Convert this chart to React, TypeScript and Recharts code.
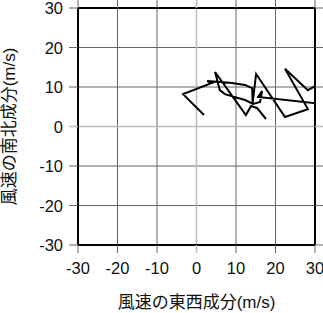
import React from 'react';
import { LineChart, Line, XAxis, YAxis, CartesianGrid, ReferenceLine } from 'recharts';

const uValues = [1.9, -3.4, 3.9, 2.7, 8.5, 12.3, 14.1, 14.2, 15.1, 22.4, 28.2, 22.4, 28.2, 30, 30, 15.6, 16.6, 16.1, 14.3, 12.3, 7.2, 5.9, 4.7, 12.5, 13.8, 15.3, 17.6];
const vValues = [2.9, 8.2, 11.0, 11.5, 11.1, 10.5, 9.7, 5.9, 13.3, 2.4, 4.4, 14.6, 9.2, 10.2, 5.9, 7.5, 9.0, 6.2, 5.7, 6.7, 8.2, 9.2, 13.8, 2.9, 5.2, 4.7, 1.9];
const tickValues = [-30, -20, -10, 0, 10, 20, 30];
const xTitle = '風速の東西成分(m/s)';
const yTitle = '風速の南北成分(m/s)';

const data = uValues.map((u, i) => ({ u, v: vValues[i] }));

const FONT = "'Liberation Sans', 'Noto Sans CJK JP', sans-serif";
const GRID = '#666';
const ZERO = '#bbb';
const col = (v: number) => (v === 0 ? ZERO : GRID);
const sw = (v: number) => (v === 0 ? 1.5 : 1);

const BottomTick = (p: any) => (
  <g>
    <line x1={p.x} y1={p.y} x2={p.x} y2={p.y + 8} stroke={col(p.payload.value)} strokeWidth={sw(p.payload.value)} />
    <text x={p.x} y={p.y + 29} textAnchor="middle" fontSize={16.5} fontFamily={FONT} fill="#111">{p.payload.value}</text>
  </g>
);
const TopTick = (p: any) => (
  <line x1={p.x} y1={p.y} x2={p.x} y2={p.y - 8} stroke={col(p.payload.value)} strokeWidth={sw(p.payload.value)} />
);
const LeftTick = (p: any) => (
  <g>
    <line x1={p.x} y1={p.y} x2={p.x - 9} y2={p.y} stroke={col(p.payload.value)} strokeWidth={sw(p.payload.value)} />
    <text x={p.x - 15} y={p.y + 6} textAnchor="end" fontSize={16.5} fontFamily={FONT} fill="#111">{p.payload.value}</text>
  </g>
);
const RightTick = (p: any) => (
  <line x1={p.x} y1={p.y} x2={p.x + 8} y2={p.y} stroke={col(p.payload.value)} strokeWidth={sw(p.payload.value)} />
);

export default function App() {
  return (
    <div style={{ position: 'absolute', left: 0, top: 0 }}>
      <LineChart width={323} height={313} data={data} margin={{ top: 0, right: 0, bottom: 0, left: 0 }}>
        <CartesianGrid stroke={GRID} strokeWidth={1} xAxisId="b" yAxisId="l" />
        <ReferenceLine x={0} xAxisId="b" yAxisId="l" stroke={ZERO} strokeWidth={1.5} />
        <ReferenceLine y={0} xAxisId="b" yAxisId="l" stroke={ZERO} strokeWidth={1.5} />
        <XAxis
          xAxisId="b"
          dataKey="u"
          type="number"
          domain={[-30, 30]}
          ticks={tickValues}
          orientation="bottom"
          height={68}
          tickSize={0}
          tickMargin={0}
          tickLine={false}
          axisLine={{ stroke: '#000', strokeWidth: 2 }}
          tick={<BottomTick />}
          interval={0}
          label={{
            content: (props: any) => {
              const vb = props.viewBox;
              return (
                <text x={vb.x + vb.width / 2} y={vb.y + 62.5} textAnchor="middle" fontSize={17} fontFamily={FONT} fill="#111">
                  {xTitle}
                </text>
              );
            },
          }}
        />
        <XAxis
          xAxisId="t"
          dataKey="u"
          type="number"
          domain={[-30, 30]}
          ticks={tickValues}
          orientation="top"
          height={8}
          tickSize={0}
          tickMargin={0}
          tickLine={false}
          axisLine={{ stroke: '#000', strokeWidth: 2 }}
          tick={<TopTick />}
          interval={0}
        />
        <YAxis
          yAxisId="l"
          dataKey="v"
          type="number"
          domain={[-30, 30]}
          ticks={tickValues}
          orientation="left"
          width={78}
          tickSize={0}
          tickMargin={0}
          tickLine={false}
          axisLine={{ stroke: '#000', strokeWidth: 2 }}
          tick={<LeftTick />}
          interval={0}
          label={{
            content: (props: any) => {
              const vb = props.viewBox;
              const cx = 9;
              const cy = vb.y + vb.height / 2;
              return (
                <text x={cx} y={cy} transform={`rotate(-90 ${cx} ${cy})`} textAnchor="middle" dominantBaseline="central" fontSize={17} fontFamily={FONT} fill="#111">
                  {yTitle}
                </text>
              );
            },
          }}
        />
        <YAxis
          yAxisId="r"
          dataKey="v"
          type="number"
          domain={[-30, 30]}
          ticks={tickValues}
          orientation="right"
          width={8}
          tickSize={0}
          tickMargin={0}
          tickLine={false}
          axisLine={{ stroke: '#000', strokeWidth: 2 }}
          tick={<RightTick />}
          interval={0}
        />
        <Line
          xAxisId="b"
          yAxisId="l"
          dataKey="v"
          stroke="#000"
          strokeWidth={2}
          dot={false}
          activeDot={false}
          isAnimationActive={false}
          strokeLinejoin="miter"
        />
      </LineChart>
    </div>
  );
}
